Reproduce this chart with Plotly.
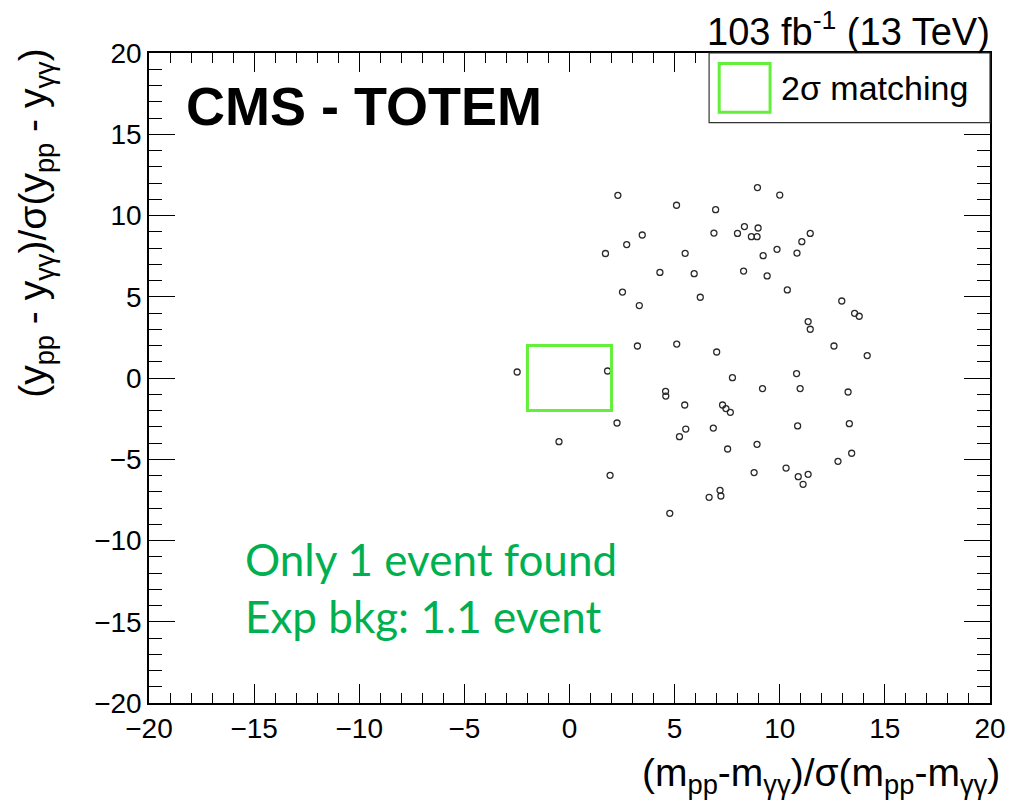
import plotly.graph_objects as go

# Normalised mass difference vs normalised rapidity difference per event
mass_pull = [
    2.30, 5.09, 6.95, 8.94, 10.00, 3.46, 2.72, 1.71, 5.50, 6.87,
    7.99, 8.32, 8.97, 8.65, 8.92, 9.21, 9.87, 10.82, 11.05, 11.45,
    4.30, 5.93, 8.28, 9.40, 2.52, 3.32, 6.22, 10.36, 12.95, 13.56,
    13.78, 11.35, 11.45, 3.23, 5.10, 7.00, 12.58, 14.16,
    -2.49, 1.81, 7.75, 10.80, 9.18, 10.97, 13.25, 4.57, 4.58, 5.48,
    7.28, 7.44, 7.65, 2.26, 10.85, 13.31, 5.53, 5.23, 6.84, -0.50,
    7.52, 8.92, 13.42, 12.77, 10.30, 10.88, 11.35, 11.11, 8.78, 1.93,
    7.16, 7.20, 6.64, 4.77,
]
rap_pull = [
    11.24, 10.63, 10.36, 11.72, 11.26, 8.80, 8.21, 7.66, 7.67, 8.92,
    8.90, 9.32, 9.23, 8.70, 8.70, 7.53, 7.92, 7.69, 8.39, 8.90,
    6.50, 6.42, 6.58, 6.28, 5.29, 4.46, 4.97, 5.42, 4.74, 3.98,
    3.80, 3.47, 3.00, 1.97, 2.09, 1.60, 1.97, 1.38,
    0.37, 0.43, 0.02, 0.27, -0.65, -0.65, -0.86, -0.82, -1.11, -1.66,
    -1.66, -1.88, -2.11, -2.77, -2.95, -2.81, -3.14, -3.61, -3.08, -3.92,
    -4.37, -4.08, -4.63, -5.13, -5.54, -6.07, -5.93, -6.54, -5.82, -5.99,
    -6.91, -7.26, -7.34, -8.33,
]

# Matching window half-width (in sigma)
window = 2.0
axis_range = [-20, 20]
tick_vals = [-20, -15, -10, -5, 0, 5, 10, 15, 20]

GREEN_BOX = "#62F03A"
TEXT_GREEN = "#00B050"
FONT = "Liberation Sans, Arial, sans-serif"

fig = go.Figure()

fig.add_trace(go.Scatter(
    x=mass_pull, y=rap_pull, mode="markers",
    marker=dict(symbol="circle-open", size=6, color="#2a2a2a",
                line=dict(width=1.3, color="#2a2a2a")),
    showlegend=False, hoverinfo="skip",
))

# 2 sigma matching window
fig.add_shape(type="rect", xref="x", yref="y",
              x0=-window, x1=window, y0=-window, y1=window,
              line=dict(color=GREEN_BOX, width=3), fillcolor="rgba(0,0,0,0)")

# Legend drawn by hand
fig.add_shape(type="rect", xref="paper", yref="paper",
              x0=0.666, x1=1.0, y0=0.893, y1=1.0,
              line=dict(color="#333333", width=1.2), fillcolor="white", layer="above")
fig.add_shape(type="rect", xref="paper", yref="paper",
              x0=0.678, x1=0.7385, y0=0.909, y1=0.984,
              line=dict(color=GREEN_BOX, width=3), fillcolor="rgba(0,0,0,0)", layer="above")

annotations = [
    dict(text="2σ matching", xref="paper", yref="paper", x=0.749, y=0.946,
         xanchor="left", yanchor="middle", showarrow=False,
         font=dict(family=FONT, size=34, color="black")),
    dict(text="<b>CMS - TOTEM</b>", xref="paper", yref="paper",
         x=(184 - 149) / 845, y=1 - (106 - 52.7) / 650,
         xanchor="left", yanchor="middle", showarrow=False,
         font=dict(family=FONT, size=54, color="black")),
    dict(text="Only 1 event found", xref="paper", yref="paper",
         x=(243 - 149) / 845, y=1 - (559 - 52.7) / 650,
         xanchor="left", yanchor="middle", showarrow=False,
         font=dict(family="Lato, sans-serif", size=44, color=TEXT_GREEN)),
    dict(text="Exp bkg: 1.1 event", xref="paper", yref="paper",
         x=(243 - 149) / 845, y=1 - (616 - 52.7) / 650,
         xanchor="left", yanchor="middle", showarrow=False,
         font=dict(family="Lato, sans-serif", size=44, color=TEXT_GREEN)),
    dict(text="103 fb<sup>-1</sup> (13 TeV)", xref="paper", yref="paper",
         x=1.002, y=1 + (52.7 - 29) / 650,
         xanchor="right", yanchor="middle", showarrow=False,
         font=dict(family=FONT, size=38, color="black")),
    dict(text="(m<sub>pp</sub>-m<sub>γγ</sub>)/σ(m<sub>pp</sub>-m<sub>γγ</sub>)",
         xref="paper", yref="paper", x=(1006 - 149) / 845, y=-(775 - 702.7) / 650,
         xanchor="right", yanchor="middle", showarrow=False,
         font=dict(family=FONT, size=39, color="black")),
    dict(text="(y<sub>pp</sub> - y<sub>γγ</sub>)/σ(y<sub>pp</sub> - y<sub>γγ</sub>)",
         xref="paper", yref="paper", x=(35 - 149) / 845, y=1 - (223 - 52.7) / 650,
         xanchor="center", yanchor="middle", showarrow=False, textangle=-90,
         font=dict(family=FONT, size=39, color="black")),
]

axis_common = dict(
    range=axis_range, tickvals=tick_vals, showgrid=False, zeroline=False,
    showline=True, linecolor="black", linewidth=1.5, mirror="ticks",
    ticks="inside", tickcolor="black", tickwidth=1.2,
    tickfont=dict(family=FONT, size=28, color="black"),
)

fig.update_xaxes(**axis_common, ticklen=19,
                 minor=dict(dtick=1, ticks="inside", ticklen=10,
                            tickcolor="black", tickwidth=1.2))
fig.update_yaxes(**axis_common, ticklen=26,
                 minor=dict(dtick=1, ticks="inside", ticklen=13,
                            tickcolor="black", tickwidth=1.2))

fig.update_layout(
    width=1018, height=811,
    margin=dict(l=149, r=24, t=53, b=108),
    paper_bgcolor="white", plot_bgcolor="white",
    annotations=annotations,
)

fig.write_html("out.html")
